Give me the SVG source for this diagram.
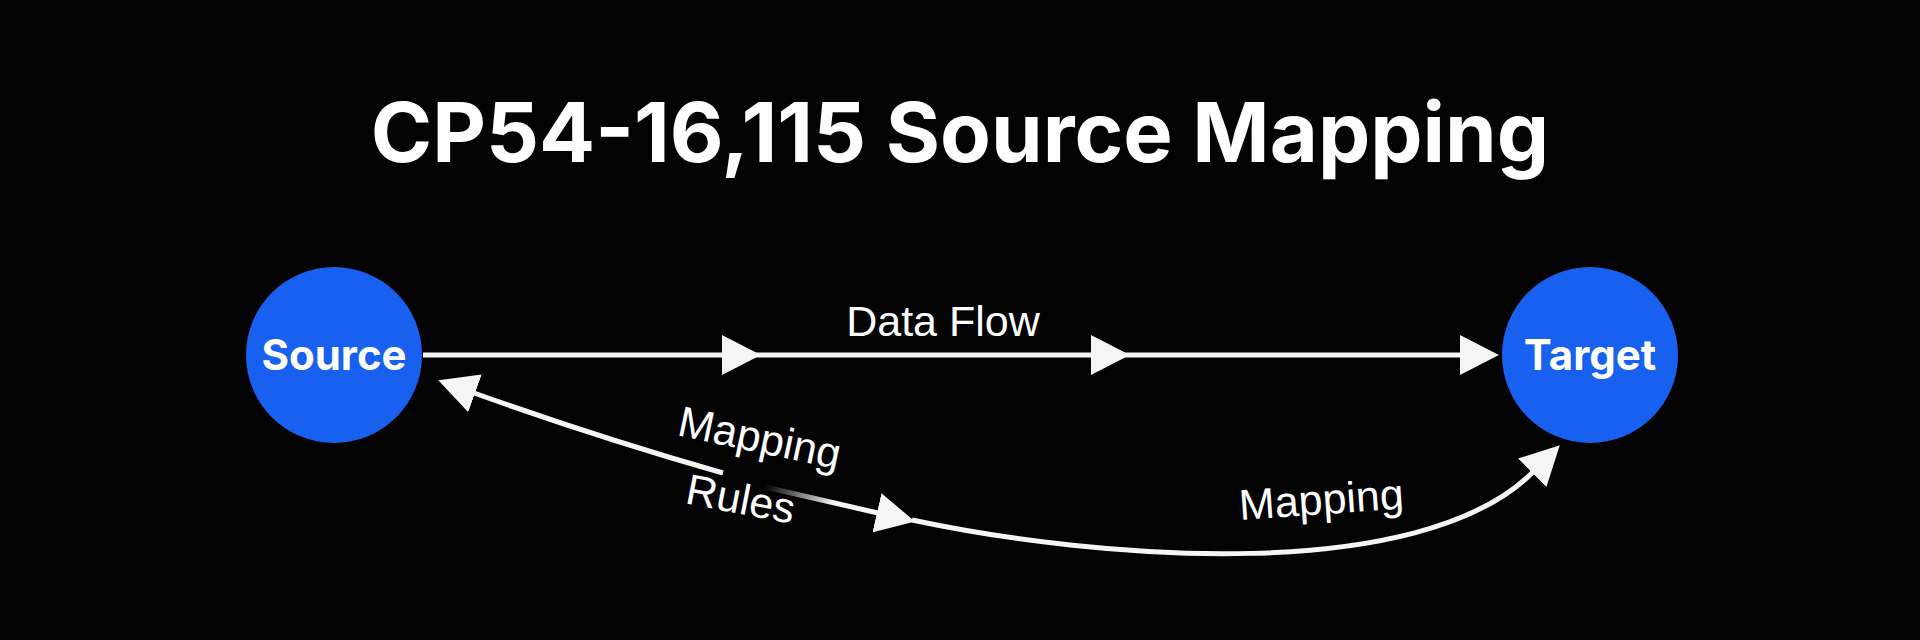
<svg xmlns="http://www.w3.org/2000/svg" width="1920" height="640" viewBox="0 0 1920 640">
  <style>
    .title { font-family: Inter, "Liberation Sans", sans-serif; font-weight: 700; fill: #ffffff; }
    .node { fill: #1760f0; }
    .nlabel { font-family: Inter, "Liberation Sans", sans-serif; font-weight: 700; font-size: 42px; fill: #ffffff; text-anchor: middle; }
    .elabel { font-family: "Liberation Sans", Arial, sans-serif; font-size: 43px; fill: #ffffff; }
    .edge { fill: none; stroke: #f5f5f5; stroke-width: 5; stroke-linecap: butt; }
  </style>
  <defs>
    <marker id="ah" markerUnits="userSpaceOnUse" markerWidth="40" markerHeight="40" viewBox="0 0 38 38" refX="1" refY="19" orient="auto">
      <path d="M0 0 L37 19 L0 38 Z" fill="#f5f5f5"/>
    </marker>
    <linearGradient id="fade" gradientUnits="userSpaceOnUse" x1="765" y1="487" x2="835" y2="502">
      <stop offset="0" stop-color="#f5f5f5" stop-opacity="0"/>
      <stop offset="1" stop-color="#f5f5f5" stop-opacity="1"/>
    </linearGradient>
  </defs>
  <rect width="1920" height="640" fill="#030303"/>

  <text class="title" x="960" y="162" font-size="83" text-anchor="middle">CP54-16,115 Source Mapping</text>

  <g id="connectors">
    <path class="edge" d="M423 355 L723 355 L1092 355 L1461 355" marker-mid="url(#ah)" marker-end="url(#ah)"/>
    <path class="edge" d="M723 473 Q600 438 474 393" marker-end="url(#ah)"/>
    <path d="M765 487 L878 513" fill="none" stroke="url(#fade)" stroke-width="5" marker-end="url(#ah)"/>
    <path class="edge" d="M912 520 C1100 560 1420 585 1533 472" marker-end="url(#ah)"/>
    <text class="elabel" x="943" y="336" font-size="44" text-anchor="middle">Data Flow</text>
    <text class="elabel" x="676" y="435" transform="rotate(12 676 435)">Mapping</text>
    <text class="elabel" x="684" y="503" transform="rotate(11 684 503)">Rules</text>
    <text class="elabel" x="1240" y="520" font-size="44" transform="rotate(-4 1240 520)">Mapping</text>
  </g>

  <g id="source">
    <circle class="node" cx="334" cy="355" r="88"/>
    <text class="nlabel" x="334" y="370">Source</text>
  </g>
  <g id="target">
    <circle class="node" cx="1590" cy="355" r="88"/>
    <text class="nlabel" x="1590" y="370">Target</text>
  </g>
</svg>
